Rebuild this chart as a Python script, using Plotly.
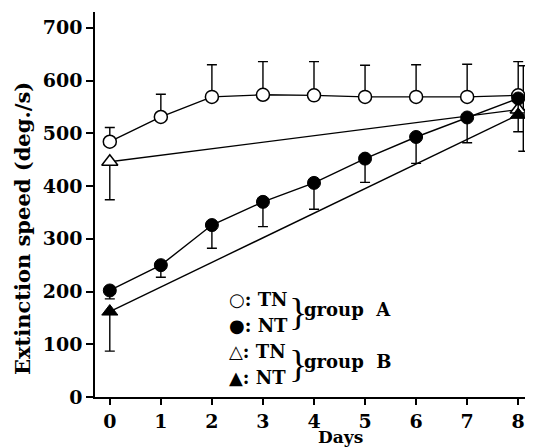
import plotly.graph_objects as go

# ---- data ----
days = [0, 1, 2, 3, 4, 5, 6, 7, 8]
a_tn = [484, 531, 569, 573, 572, 569, 569, 569, 572]
a_tn_err_up = [27, 43, 61, 63, 64, 60, 61, 62, 64]
a_nt = [202, 250, 326, 370, 406, 452, 493, 530, 566]
a_nt_err_down = [16, 23, 44, 47, 50, 45, 50, 48, 63]

b_days = [0, 8]
b_tn = [446, 545]
b_tn_err_up = [0, 83]
b_tn_err_down = [72, 0]
b_nt = [162, 535]
b_nt_err_down = [75, 69]

y_ticks = [0, 100, 200, 300, 400, 500, 600, 700]
x_ticks = [0, 1, 2, 3, 4, 5, 6, 7, 8]

# ---- style ----
PAGE_W, PAGE_H = 533, 448
OFF = 8                       # default page body margin
W, H = PAGE_W - OFF, PAGE_H - OFF
PLOT_L, PLOT_R, PLOT_T, PLOT_B = 95, 533, 12, 397   # plot area in page pixels
L, R, T, B = PLOT_L - OFF, PAGE_W - PLOT_R, PLOT_T - OFF, PAGE_H - PLOT_B
FONT = "DejaVu Serif"
LW = 1.4
B_SHIFT = [0, 0.1]  # small horizontal offset of group-B error bars at day 8


def px(x):
    return (x - PLOT_L) / (PLOT_R - PLOT_L)


def py(y):
    return (PLOT_B - y) / (PLOT_B - PLOT_T)


fig = go.Figure()

# group B (drawn first, beneath)
fig.add_trace(go.Scatter(x=b_days, y=b_tn, mode="lines",
                         line=dict(color="black", width=LW), showlegend=False))
fig.add_trace(go.Scatter(x=b_days, y=b_nt, mode="lines",
                         line=dict(color="black", width=LW), showlegend=False))
bx = [d + s for d, s in zip(b_days, B_SHIFT)]
fig.add_trace(go.Scatter(x=bx, y=b_tn, mode="markers", marker=dict(size=1, opacity=0),
                         error_y=dict(type="data", symmetric=False, array=b_tn_err_up,
                                      arrayminus=b_tn_err_down, color="black",
                                      thickness=LW, width=5), showlegend=False))
fig.add_trace(go.Scatter(x=bx, y=b_nt, mode="markers", marker=dict(size=1, opacity=0),
                         error_y=dict(type="data", symmetric=False, array=[0, 0],
                                      arrayminus=b_nt_err_down, color="black",
                                      thickness=LW, width=5), showlegend=False))
fig.add_trace(go.Scatter(x=b_days, y=b_tn, mode="markers",
                         marker=dict(symbol="triangle-up", size=14, color="white",
                                     line=dict(color="black", width=1.5)), showlegend=False))
fig.add_trace(go.Scatter(x=b_days, y=b_nt, mode="markers",
                         marker=dict(symbol="triangle-up", size=14, color="black",
                                     line=dict(color="black", width=1)), showlegend=False))

# group A
fig.add_trace(go.Scatter(x=days, y=a_tn, mode="lines+markers",
                         line=dict(color="black", width=LW),
                         marker=dict(symbol="circle", size=13, color="white",
                                     line=dict(color="black", width=1.5)),
                         error_y=dict(type="data", symmetric=False, array=a_tn_err_up,
                                      arrayminus=[0] * len(days), color="black",
                                      thickness=LW, width=5), showlegend=False))
fig.add_trace(go.Scatter(x=days, y=a_nt, mode="lines+markers",
                         line=dict(color="black", width=LW),
                         marker=dict(symbol="circle", size=13, color="black",
                                     line=dict(color="black", width=1)),
                         error_y=dict(type="data", symmetric=False, array=[0] * len(days),
                                      arrayminus=a_nt_err_down, color="black",
                                      thickness=LW, width=5), showlegend=False))

annotations = []
# axis titles
annotations.append(dict(x=px(22), y=py(229), xref="paper", yref="paper",
                        xanchor="center", yanchor="middle",
                        text="<b>Extinction speed (deg./s)</b>", textangle=-90,
                        showarrow=False, font=dict(family=FONT, size=21, color="black")))
annotations.append(dict(x=px(340), y=py(437), xref="paper", yref="paper",
                        xanchor="center", yanchor="middle",
                        text="<b>Days</b>", showarrow=False,
                        font=dict(family=FONT, size=17, color="black")))

# legend block
rows = [("○", "TN", 299), ("●", "NT", 325), ("△", "TN", 351), ("▲", "NT", 377)]
for sym, lab, yy in rows:
    annotations.append(dict(x=px(227), y=py(yy), xref="paper", yref="paper",
                            xanchor="left", yanchor="middle",
                            text=sym + "<b>: " + lab + "</b>", showarrow=False,
                            font=dict(family=FONT, size=18, color="black")))
for grp, yy in (("A", 312), ("B", 364)):
    annotations.append(dict(x=px(287), y=py(yy), xref="paper", yref="paper",
                            xanchor="left", yanchor="middle", text="}",
                            showarrow=False,
                            font=dict(family="Liberation Serif", size=38, color="black")))
    annotations.append(dict(x=px(302), y=py(yy - 3), xref="paper", yref="paper",
                            xanchor="left", yanchor="middle",
                            text="<b>group  " + grp + "</b>", showarrow=False,
                            font=dict(family=FONT, size=18, color="black")))

fig.update_layout(
    width=W, height=H,
    margin=dict(l=L, r=R, t=T, b=B, pad=0),
    paper_bgcolor="white", plot_bgcolor="white",
    font=dict(family=FONT, size=19, color="black"),
    xaxis=dict(range=[-0.29, 8.29], tickvals=x_ticks, ticktext=[f"<b>{v}</b>" for v in x_ticks],
               ticks="outside", ticklen=6, tickwidth=1.5, tickcolor="black",
               showline=True, linecolor="black", linewidth=1.5, showgrid=False,
               zeroline=False, mirror=False),
    yaxis=dict(range=[0, 730], tickvals=y_ticks, ticktext=[f"<b>{v}</b>" for v in y_ticks],
               ticks="outside", ticklen=7, tickwidth=1.5, tickcolor="black",
               showline=True, linecolor="black", linewidth=1.5, showgrid=False,
               zeroline=False),
    annotations=annotations,
)

fig.write_html("out.html")
